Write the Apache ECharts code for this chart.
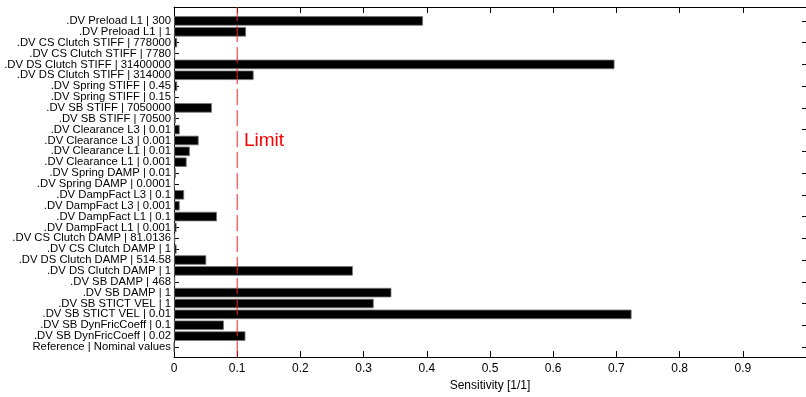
<!DOCTYPE html>
<html>
<head>
<meta charset="utf-8">
<script src="https://cdn.jsdelivr.net/npm/echarts@6/dist/echarts.min.js"></script>
<style>
  html, body { margin: 0; padding: 0; background: #fff; }
  #chart { width: 806px; height: 397px; }
</style>
</head>
<body>
<div id="chart"></div>
<script>
// parameter variations, top to bottom
const categories = [
  '.DV Preload L1 | 300',
  '.DV Preload L1 | 1',
  '.DV CS Clutch STIFF | 778000',
  '.DV CS Clutch STIFF | 7780',
  '.DV DS Clutch STIFF | 31400000',
  '.DV DS Clutch STIFF | 314000',
  '.DV Spring STIFF | 0.45',
  '.DV Spring STIFF | 0.15',
  '.DV SB STIFF | 7050000',
  '.DV SB STIFF | 70500',
  '.DV Clearance L3 | 0.01',
  '.DV Clearance L3 | 0.001',
  '.DV Clearance L1 | 0.01',
  '.DV Clearance L1 | 0.001',
  '.DV Spring DAMP | 0.01',
  '.DV Spring DAMP | 0.0001',
  '.DV DampFact L3 | 0.1',
  '.DV DampFact L3 | 0.001',
  '.DV DampFact L1 | 0.1',
  '.DV DampFact L1 | 0.001',
  '.DV CS Clutch DAMP | 81.0136',
  '.DV CS Clutch DAMP | 1',
  '.DV DS Clutch DAMP | 514.58',
  '.DV DS Clutch DAMP | 1',
  '.DV SB DAMP | 468',
  '.DV SB DAMP | 1',
  '.DV SB STICT VEL | 1',
  '.DV SB STICT VEL | 0.01',
  '.DV SB DynFricCoeff | 0.1',
  '.DV SB DynFricCoeff | 0.02',
  'Reference | Nominal values'
]

const sensitivity = [
  0.394, 0.114, 0.005, 0.002, 0.697, 0.126, 0.005, 0.002, 0.060, 0.003,
  0.009, 0.039, 0.025, 0.020, 0.003, 0.001, 0.016, 0.009, 0.068, 0.004,
  0.002, 0.004, 0.051, 0.283, 0.002, 0.344, 0.316, 0.724, 0.079, 0.113,
  0
]

const limitValue = 0.1
const xMin = 0
const xMax = 1
const xStep = 0.1

const font = 'Liberation Sans, Arial, sans-serif'

const chart = echarts.init(document.getElementById('chart'), null, { renderer: 'canvas' })

// category axis with only inward ticks (line kept but invisible so ticks draw)
const catAxis = (position, showLabels, tickLen) => ({
  gridIndex: 1, type: 'category', data: categories, inverse: true,
  position: position,
  axisLine: { show: true, lineStyle: { color: 'rgba(0,0,0,0)' } },
  axisTick: { show: true, inside: true, length: tickLen, alignWithLabel: true, lineStyle: { color: '#000', width: 1 } },
  axisLabel: showLabels
    ? { color: '#000', fontSize: 11.3, margin: 3, fontFamily: font, interval: 0 }
    : { show: false }
})

const option = {
  animation: false,
  backgroundColor: '#fff',
  textStyle: { fontFamily: font },
  grid: [
    // frame: axes box
    { left: 174, right: 0, top: 7, bottom: 37 },
    // bars
    { left: 174, right: 0, top: 15.5, bottom: 44.6 }
  ],
  xAxis: [
    {
      gridIndex: 0, type: 'value', position: 'bottom',
      min: xMin, max: xMax, interval: xStep,
      splitLine: { show: false },
      axisLine: { lineStyle: { color: '#000', width: 1 } },
      axisTick: { inside: true, length: 6, lineStyle: { color: '#000' } },
      axisLabel: {
        color: '#000', fontSize: 12, margin: 6, fontFamily: font,
        showMaxLabel: false
      },
      name: 'Sensitivity [1/1]',
      nameLocation: 'middle',
      nameGap: 20,
      nameTextStyle: { color: '#000', fontSize: 12, fontFamily: font }
    },
    {
      gridIndex: 0, type: 'value', position: 'top',
      min: xMin, max: xMax, interval: xStep,
      splitLine: { show: false },
      axisLine: { lineStyle: { color: '#000', width: 1 } },
      axisTick: { inside: true, length: 6, lineStyle: { color: '#000' } },
      axisLabel: { show: false }
    },
    {
      gridIndex: 1, type: 'value', show: false,
      min: xMin, max: xMax
    }
  ],
  yAxis: [
    {
      gridIndex: 0, type: 'value', min: 0, max: 1,
      splitLine: { show: false },
      axisLine: { show: true, lineStyle: { color: '#000', width: 1 } },
      axisTick: { show: false },
      axisLabel: { show: false }
    },
    catAxis('left', true, 5),
    catAxis('right', false, 4)
  ],
  series: [
    {
      type: 'bar',
      xAxisIndex: 2,
      yAxisIndex: 1,
      data: sensitivity,
      barWidth: 9.5,
      itemStyle: { color: '#000', borderColor: '#777', borderWidth: 0.8 },
      silent: true
    },
    {
      // limit line across the whole frame
      type: 'line',
      xAxisIndex: 0,
      yAxisIndex: 0,
      data: [[limitValue, 0], [limitValue, 1]],
      symbol: 'none',
      lineStyle: { color: '#f0202a', width: 1, type: [16, 5] },
      silent: true
    }
  ],
  graphic: [
    {
      type: 'text',
      left: 244,
      top: 131,
      style: { text: 'Limit', fill: '#ff0000', font: '19px Liberation Sans, Arial, sans-serif' }
    }
  ]
}

chart.setOption(option)
window.addEventListener('resize', () => chart.resize())
</script>
</body>
</html>
